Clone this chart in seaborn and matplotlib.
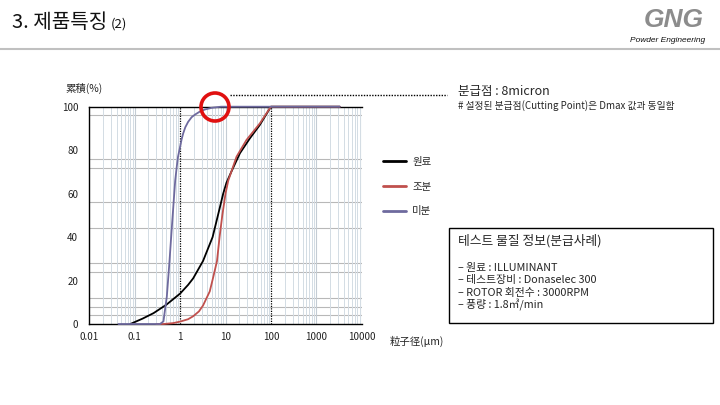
import matplotlib
matplotlib.use("Agg")
import matplotlib.pyplot as plt
import seaborn as sns
import numpy as np
from matplotlib.patches import Ellipse, Rectangle
from matplotlib.lines import Line2D

# particle size distribution data
raw_size = [0.08, 0.15, 0.26, 0.5, 1.0, 1.5, 1.94, 3.2, 5.2, 7.0, 8.9, 10.5, 13.4, 20.8, 34.6, 57, 100, 3300]
raw_cum = [0, 2.5, 5, 8.9, 14, 18, 21, 29, 40, 51, 60, 65, 70, 78.6, 85.5, 91.6, 100, 100]

coarse_size = [0.3, 0.43, 0.7, 1.0, 1.5, 1.95, 2.6, 3.2, 4.5, 5.4, 6.5, 7.4, 8.5, 10.0, 11.5, 13.4, 17.5, 29, 57, 100, 3300]
coarse_cum = [0, 0, 0.4, 1.1, 2.2, 3.6, 5.8, 8.5, 15, 21.8, 29, 40, 50, 60, 66, 70, 77, 84.7, 92.3, 100, 100]

fine_size = [0.044, 0.36, 0.43, 0.46, 0.51, 0.58, 0.65, 0.72, 0.78, 0.84, 0.9, 1.0, 1.08, 1.17, 1.3,
             1.5, 1.8, 2.14, 2.7, 3.5, 5.0, 8.0, 3300]
fine_cum = [0, 0, 1.2, 5.8, 12.6, 28, 43, 56, 66, 72, 77, 81.5, 85, 87.7, 90.5,
            93, 95.2, 96.4, 97.7, 98.7, 99.5, 100, 100]

labels = ['원료', '조분', '미분']
colors = ['#000000', '#c0504d', '#6e6a9e']

hgrid = [4, 8, 12, 24, 28, 44, 56, 72, 76, 96]
xticks = [0.01, 0.1, 1, 10, 100, 1000, 10000]
xticklabels = ['0.01', '0.1', '1', '10', '100', '1000', '10000']
yticks = [0, 20, 40, 60, 80, 100]

info_lines = ['– 원료 : ILLUMINANT',
              '– 테스트장비 : Donaselec 300',
              '– ROTOR 회전수 : 3000RPM',
              '– 풍량 : 1.8㎥/min']

sns.set_theme(style='white')
plt.rcParams['font.family'] = ['Noto Sans CJK KR', 'DejaVu Sans']

W, H = 720, 405
fig = plt.figure(figsize=(7.2, 4.05), dpi=100)

def fx(px):
    return px / W

def fy(py):
    return 1 - py / H

ax = fig.add_axes([fx(89.3), fy(324), fx(361.7) - fx(89.3), fy(106.7) - fy(324)])
ax.set_xscale('log')
ax.set_xlim(0.01, 10000)
ax.set_ylim(0, 100)

# grid
for v in hgrid:
    ax.axhline(v, color='#b8b8b8', lw=0.8, zorder=0)
for dec in range(-2, 4):
    for m in range(2, 10):
        ax.axvline(m * 10.0 ** dec, color='#d3dce4', lw=0.7, zorder=0)
for d in [0.1, 10, 1000, 10000]:
    ax.axvline(d, color='#c4ccd4', lw=0.8, zorder=0)
for d in [1, 100]:
    ax.axvline(d, color='black', lw=0.9, ls=(0, (1, 1)), zorder=1)

series = [(raw_size, raw_cum), (coarse_size, coarse_cum), (fine_size, fine_cum)]
for (sx, sy), lab, col in zip(series, labels, colors):
    sns.lineplot(x=sx, y=sy, ax=ax, color=col, lw=1.3, label=lab, sort=False)
for ln in ax.get_lines()[-3:]:
    ln.set_clip_on(False)
    ln.set_zorder(3)

ax.set_xticks(xticks)
ax.set_xticklabels(xticklabels)
ax.set_yticks(yticks)
ax.minorticks_off()
ax.tick_params(axis='both', length=0, labelsize=7, colors='#222222')
ax.tick_params(axis='y', pad=8)
ax.tick_params(axis='x', pad=6)
for s in ['left', 'bottom', 'top']:
    ax.spines[s].set_color('black')
    ax.spines[s].set_linewidth(1.0)
ax.spines['right'].set_visible(False)

leg = ax.legend(loc='upper left', bbox_to_anchor=(fx(383), fy(157)), bbox_transform=fig.transFigure,
                frameon=False, fontsize=7.5, handlelength=2.2, handletextpad=0.6, labelspacing=1.4,
                borderpad=0, borderaxespad=0)
for ln in leg.get_lines():
    ln.set_linewidth(2)

# header
fig.text(fx(12), fy(23), '3. 제품특징', fontsize=14.5, va='center', ha='left', color='#111111')
fig.text(fx(111), fy(24), '(2)', fontsize=9.5, va='center', ha='left', color='#111111')
fig.add_artist(Line2D([0, 1], [fy(49), fy(49)], color='#c0c0c0', lw=1.5))
fig.text(fx(674), fy(20), 'GNG', fontsize=19, fontweight='bold', fontstyle='italic',
         family='Liberation Sans', ha='center', va='center', color='#8c8c8c')
fig.text(fx(668), fy(41), 'Powder Engineering', fontsize=6, fontstyle='italic',
         family='Liberation Sans', ha='center', va='center', color='#111111')

# axis titles
fig.text(fx(65), fy(88), '累積(%)', fontsize=7.5, ha='left', va='center',
         family=['Noto Sans CJK JP', 'DejaVu Sans'])
fig.text(fx(390), fy(341), '粒子径(μm)', fontsize=7.5, ha='left', va='center',
         family=['Noto Sans CJK JP', 'DejaVu Sans'])

# cut point marker
fig.add_artist(Ellipse((fx(215), fy(107)), 28 / W, 28 / H, transform=fig.transFigure,
                       fill=False, ec='#e01010', lw=2.6))
fig.add_artist(Line2D([fx(230), fx(447)], [fy(95), fy(95)], color='black', lw=1, ls=(0, (1, 1))))
fig.text(fx(458), fy(92), '분급점 : 8micron', fontsize=9, ha='left', va='center')
fig.text(fx(458), fy(106), '# 설정된 분급점(Cutting Point)은 Dmax 값과 동일함', fontsize=7,
         ha='left', va='center')

# info box
fig.add_artist(Rectangle((fx(449), fy(323)), fx(713) - fx(449), fy(228) - fy(323),
                         transform=fig.transFigure, fill=False, ec='black', lw=1))
fig.text(fx(458), fy(241), '테스트 물질 정보(분급사례)', fontsize=9.2, ha='left', va='center')
for i, t in enumerate(info_lines):
    fig.text(fx(458), fy(268 + 12.4 * i), t, fontsize=7.8, ha='left', va='center')

fig.savefig('out.png', dpi=100)
